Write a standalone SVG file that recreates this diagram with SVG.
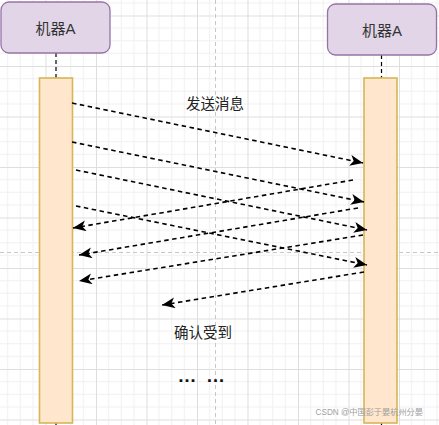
<svg xmlns="http://www.w3.org/2000/svg" width="439" height="425" viewBox="0 0 439 425">
<style>
.node rect{fill:#e1d5e7;stroke:#9673a6;stroke-width:1.3}
.bar{fill:#ffe6cc;stroke:#d6b656;stroke-width:1.6}
.lbl{font-family:"Liberation Sans","Noto Sans CJK SC",sans-serif;font-size:15px;fill:#333;text-anchor:middle;dominant-baseline:central}
.msg{font-family:"Liberation Sans","Noto Sans CJK SC",sans-serif;font-size:14.5px;fill:#222;text-anchor:middle;dominant-baseline:central}
.dots{font-family:"Liberation Sans",sans-serif;font-size:19px;font-weight:bold;fill:#111;text-anchor:middle}
.life{stroke:#000;stroke-width:1.2;stroke-dasharray:4 3;fill:none}
.conn line{stroke:#000;stroke-width:1.6;stroke-dasharray:4.5 3.5;fill:none;marker-end:url(#arr)}
.guide{stroke:#c8c8c8;stroke-width:1;stroke-dasharray:4 3}
</style>
<defs>
<pattern id="grid" patternUnits="userSpaceOnUse" x="-5" y="15.5" width="50.5" height="50.5">
<path d="M12.625 0V50.5M25.25 0V50.5M37.875 0V50.5M0 12.625H50.5M0 25.25H50.5M0 37.875H50.5" stroke="#f0f0f0" stroke-width="1" fill="none"/>
<path d="M0.5 0V50.5M0 0.5H50.5" stroke="#dedede" stroke-width="1" fill="none"/>
</pattern>
<marker id="arr" markerUnits="userSpaceOnUse" markerWidth="14" markerHeight="12" refX="13" refY="5.5" orient="auto" viewBox="0 0 14 12">
<path d="M0,0 L13,5.5 L0,11 L3.5,5.5 z" fill="#000"/>
</marker>
</defs>
<rect width="439" height="425" fill="#fff"/>
<rect width="439" height="425" fill="url(#grid)"/>
<line class="guide" x1="215.5" y1="0" x2="215.5" y2="425"/>
<line class="guide" x1="0" y1="252.5" x2="439" y2="252.5"/>

<g id="lifelines">
<line class="life" x1="56" y1="53" x2="56" y2="78"/>
<line class="life" x1="381.5" y1="55" x2="381.5" y2="78"/>
<line class="life" x1="56" y1="423" x2="56" y2="425"/>
<line class="life" x1="381.5" y1="423" x2="381.5" y2="425"/>
</g>

<g id="nodeA-left" class="node">
<rect x="1" y="2" width="109" height="51" rx="8"/>
<text class="lbl" x="55.5" y="28">机器A</text>
</g>
<g id="nodeA-right" class="node">
<rect x="327.5" y="4" width="109" height="51" rx="8"/>
<text class="lbl" x="382" y="30">机器A</text>
</g>
<g id="bar-left"><rect class="bar" x="39.5" y="78" width="33" height="345"/></g>
<g id="bar-right"><rect class="bar" x="364" y="78" width="33" height="345"/></g>

<g id="connectors" class="conn">
<line x1="72" y1="103" x2="363" y2="163"/>
<line x1="72" y1="142" x2="364" y2="202"/>
<line x1="76" y1="170" x2="367" y2="230"/>
<line x1="76" y1="206" x2="367" y2="265"/>
<line x1="353" y1="180" x2="73" y2="228"/>
<line x1="358" y1="208" x2="79" y2="255"/>
<line x1="363" y1="235" x2="79" y2="281"/>
<line x1="364" y1="272" x2="162" y2="305"/>
</g>

<g id="labels">
<text class="msg" x="215" y="104">发送消息</text>
<text class="msg" x="203" y="333">确认受到</text>
<text class="dots" x="187" y="382">…</text>
<text class="dots" x="215.5" y="382">…</text>
<text x="423" y="412" style="font-family:'Liberation Sans','Noto Sans CJK SC',sans-serif;font-size:8.2px;fill:#a0a0a0;text-anchor:end;dominant-baseline:central">CSDN @中国彭于晏杭州分晏</text>
</g>
</svg>
